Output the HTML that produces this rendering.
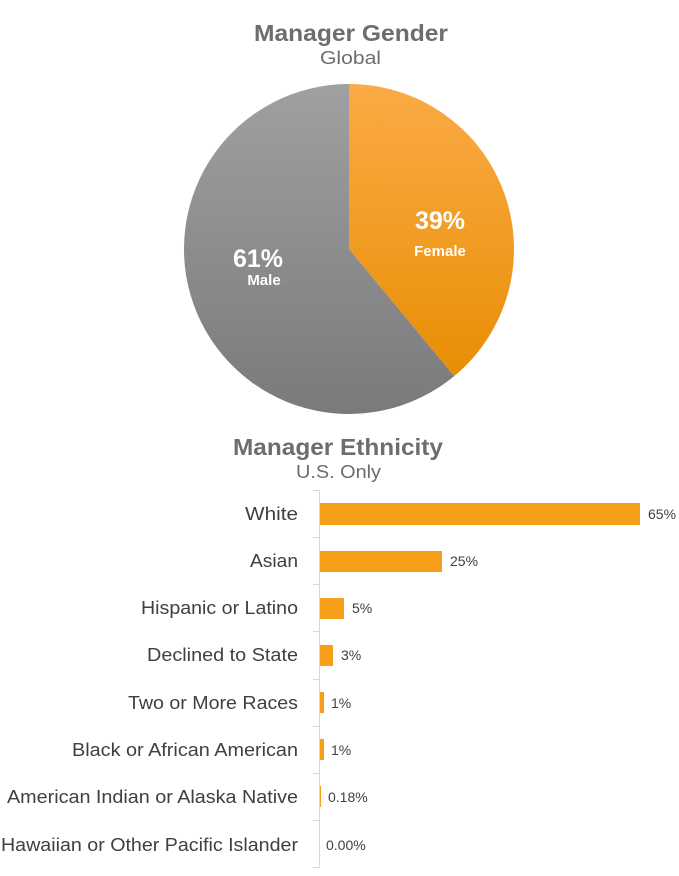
<!DOCTYPE html>
<html><head><meta charset="utf-8"><style>
body{margin:0;background:#fff;}
</style></head><body>
<svg width="679" height="871" xmlns="http://www.w3.org/2000/svg" font-family="Liberation Sans, sans-serif">
<defs>
<linearGradient id="og" x1="0" y1="0" x2="0" y2="1"><stop offset="0" stop-color="#fbab45"/><stop offset="1" stop-color="#e88e05"/></linearGradient>
<linearGradient id="gg" x1="0" y1="0" x2="0" y2="1"><stop offset="0" stop-color="#a0a0a2"/><stop offset="1" stop-color="#7a7a7c"/></linearGradient>
</defs>
<text x="254" y="41" font-size="23" font-weight="bold" fill="#6d6d6f" textLength="194" lengthAdjust="spacingAndGlyphs">Manager Gender</text>
<text x="320" y="64" font-size="18" fill="#6d6d6f" textLength="61" lengthAdjust="spacingAndGlyphs">Global</text>
<path d="M349,249 L349,84 A165,165 0 0 1 454.2,376.1 Z" fill="url(#og)"/>
<path d="M349,249 L454.2,376.1 A165,165 0 1 1 349,84 Z" fill="url(#gg)"/>
<text x="440" y="229" text-anchor="middle" font-size="25" font-weight="bold" fill="#fff">39%</text>
<text x="440" y="256" text-anchor="middle" font-size="15" font-weight="bold" fill="#fff">Female</text>
<text x="258" y="267" text-anchor="middle" font-size="25" font-weight="bold" fill="#fff">61%</text>
<text x="264" y="285" text-anchor="middle" font-size="15" font-weight="bold" fill="#fff">Male</text>
<text x="233" y="455" font-size="23" font-weight="bold" fill="#6d6d6f" textLength="210" lengthAdjust="spacingAndGlyphs">Manager Ethnicity</text>
<text x="296" y="478" font-size="18" fill="#6d6d6f" textLength="85" lengthAdjust="spacingAndGlyphs">U.S. Only</text>
<g stroke="#d9d9d9" stroke-width="1">
<line x1="319.5" y1="490" x2="319.5" y2="868"/>
<line x1="313" y1="490.5" x2="319" y2="490.5"/><line x1="313" y1="537.5" x2="319" y2="537.5"/><line x1="313" y1="584.5" x2="319" y2="584.5"/><line x1="313" y1="631.5" x2="319" y2="631.5"/><line x1="313" y1="679.5" x2="319" y2="679.5"/><line x1="313" y1="726.5" x2="319" y2="726.5"/><line x1="313" y1="773.5" x2="319" y2="773.5"/><line x1="313" y1="820.5" x2="319" y2="820.5"/><line x1="313" y1="867.5" x2="319" y2="867.5"/>
</g>
<g fill="#f6a01a">
<rect x="320" y="503" width="320" height="22"/>
<rect x="320" y="551" width="122" height="21"/>
<rect x="320" y="598" width="24" height="21"/>
<rect x="320" y="645" width="13" height="21"/>
<rect x="320" y="692" width="4" height="21"/>
<rect x="320" y="739" width="4" height="21"/>
<rect x="320" y="786" width="1" height="21"/>
</g>
<g font-size="18" fill="#404040" lengthAdjust="spacingAndGlyphs">
<text x="245" y="520" textLength="53" lengthAdjust="spacingAndGlyphs">White</text>
<text x="250" y="567" textLength="48" lengthAdjust="spacingAndGlyphs">Asian</text>
<text x="141" y="614" textLength="157" lengthAdjust="spacingAndGlyphs">Hispanic or Latino</text>
<text x="147" y="661" textLength="151" lengthAdjust="spacingAndGlyphs">Declined to State</text>
<text x="128" y="709" textLength="170" lengthAdjust="spacingAndGlyphs">Two or More Races</text>
<text x="72" y="756" textLength="226" lengthAdjust="spacingAndGlyphs">Black or African American</text>
<text x="7" y="803" textLength="291" lengthAdjust="spacingAndGlyphs">American Indian or Alaska Native</text>
<text x="1" y="851" textLength="297" lengthAdjust="spacingAndGlyphs">Hawaiian or Other Pacific Islander</text>
</g>
<g font-size="14" fill="#404040">
<text x="648" y="519">65%</text>
<text x="450" y="566">25%</text>
<text x="352" y="613">5%</text>
<text x="341" y="660">3%</text>
<text x="331" y="708">1%</text>
<text x="331" y="755">1%</text>
<text x="328" y="802">0.18%</text>
<text x="326" y="850">0.00%</text>
</g>
</svg>
</body></html>
